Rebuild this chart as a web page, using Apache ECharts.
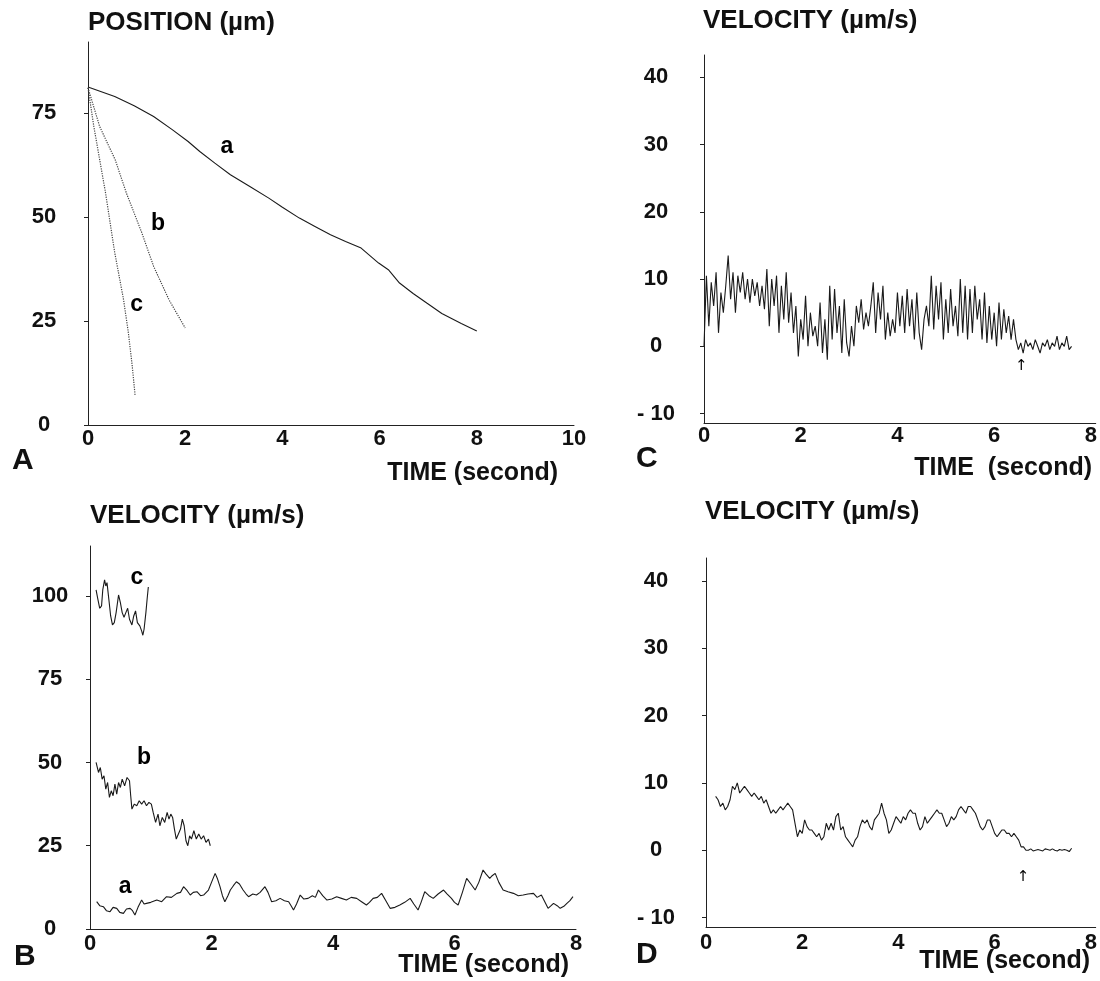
<!DOCTYPE html>
<html lang="en">
<head>
<meta charset="UTF-8">
<title>Position and velocity</title>
<style>
  html, body { margin: 0; padding: 0; background: #fff; }
  #main { width: 1100px; height: 981px; }
</style>
</head>
<body>
<div id="main"></div>
<script src="https://cdn.jsdelivr.net/npm/echarts@6/dist/echarts.min.js"></script>
<script>
// tick labels
var posTicks = [0, 25, 50, 75];
var timeTicksA = [0, 2, 4, 6, 8, 10];
var velTicksB = [0, 25, 50, 75, 100];
var timeTicks = [0, 2, 4, 6, 8];
var velTicks = [-10, 0, 10, 20, 30, 40];

// panel A : position (um) against time (s), [t, pos]
var posA = [[0,81.2],[0.55,78.9],[0.95,76.7],[1.35,74.1],[1.74,70.9],[2.06,68.1],[2.3,65.7],[2.61,62.9],
  [2.93,60.1],[3.33,57.3],[3.72,54.5],[4.0,52.3],[4.35,49.7],[4.67,47.7],[4.99,45.7],[5.3,44.1],
  [5.62,42.5],[5.98,38.9],[6.18,37.3],[6.41,34.1],[6.69,31.6],[6.97,29.3],[7.28,26.8],[7.68,24.4],[8.0,22.6]];
var posB = [[0,81],[0.24,71.7],[0.56,63.7],[0.79,55.7],[1.11,46.1],[1.35,38.1],[1.67,30],[2.0,23.3]];
var posC = [[0,81],[0.12,71.7],[0.36,55.8],[0.55,41.4],[0.73,30.2],[0.83,22.2],[0.91,14.2],[0.97,7.0]];

// panel B : velocity (um/s) of the three cells, [t, v]
var velBc = [[0.10,101.8],[0.13,99],[0.16,96.3],[0.19,97],[0.21,101.8],[0.24,104.8],[0.26,103],[0.28,104],
  [0.31,99],[0.34,94],[0.37,91.3],[0.40,92],[0.43,95],[0.47,100.3],[0.50,98],[0.53,95],[0.56,93.6],
  [0.59,95],[0.62,96.3],[0.65,93],[0.69,91.3],[0.72,94],[0.75,95.5],[0.78,92],[0.82,91],[0.85,89.5],
  [0.87,88.2],[0.89,90],[0.92,95],[0.94,99],[0.96,102.7]];
var velBb = [[0.10,50],[0.14,47],[0.17,48.5],[0.2,45],[0.23,46],[0.26,42],[0.29,44],[0.32,39.5],[0.35,41.5],
  [0.38,40],[0.41,43.5],[0.44,40.5],[0.47,44],[0.5,42.5],[0.53,45],[0.57,43],[0.61,45.5],[0.65,44.5],
  [0.67,40],[0.69,36],[0.73,37.5],[0.77,37],[0.81,38.5],[0.85,37.5],[0.89,38.5],[0.93,37],[0.97,38],
  [1.01,37.5],[1.04,35],[1.08,32],[1.12,34.5],[1.15,31],[1.19,33.5],[1.23,32],[1.27,35],[1.3,33],
  [1.33,34.5],[1.36,33.5],[1.39,30],[1.42,27],[1.45,27.5],[1.49,30],[1.52,33],[1.55,31],[1.58,26.5],
  [1.61,25],[1.64,28],[1.67,27],[1.71,29.5],[1.75,27],[1.79,28.5],[1.83,27],[1.87,28],[1.91,26],
  [1.95,27],[1.98,25]];
var velBa = [[0.11,8.2],[0.16,7],[0.22,6.7],[0.27,5.5],[0.33,5.2],[0.38,6.5],[0.44,6.2],[0.49,5],
  [0.55,4.7],[0.6,6],[0.66,6.2],[0.7,5.5],[0.74,4.2],[0.79,6.5],[0.85,8.7],[0.89,7.5],[0.93,7.7],
  [1.0,8],[1.1,8.7],[1.18,8.2],[1.26,9.7],[1.34,9.5],[1.43,10.7],[1.49,11],[1.54,12.7],[1.6,11.5],
  [1.65,10.2],[1.7,11],[1.76,11.2],[1.82,10],[1.87,10.2],[1.95,11.7],[2.0,14],[2.06,16.7],[2.1,15],
  [2.14,12.7],[2.18,10],[2.22,8.2],[2.27,10],[2.31,11.7],[2.36,13],[2.41,14.2],[2.46,13.5],[2.52,11.7],
  [2.57,10.5],[2.61,9.7],[2.68,10.5],[2.74,10.2],[2.8,11],[2.88,12.7],[2.93,11],[2.99,8.2],[3.06,8.5],
  [3.13,9.2],[3.2,8.5],[3.27,8.2],[3.31,7],[3.35,5.7],[3.4,7.5],[3.46,10.2],[3.52,9],[3.59,9.2],
  [3.66,10],[3.71,9.5],[3.76,11.7],[3.83,10],[3.9,8.7],[3.98,9],[4.06,9.7],[4.14,9.2],[4.22,8.7],
  [4.3,9.5],[4.39,9.2],[4.47,8.2],[4.55,7.2],[4.6,8],[4.66,9.2],[4.73,9.5],[4.8,10.7],[4.87,8.5],
  [4.94,6.2],[5.02,6.5],[5.1,7.2],[5.18,8],[5.27,9.2],[5.33,7.5],[5.4,5.7],[5.45,8],[5.51,11.2],
  [5.58,10],[5.65,9.2],[5.73,10.5],[5.82,11.7],[5.88,10.5],[5.95,9.2],[6.0,8],[6.06,7.2],[6.13,11],
  [6.2,15.2],[6.27,13.5],[6.34,11.7],[6.4,14],[6.47,17.7],[6.52,16.5],[6.58,15.2],[6.62,16],[6.67,16.7],
  [6.73,14],[6.8,11.7],[6.88,11.2],[6.97,10.7],[7.05,10],[7.13,10.2],[7.21,10.5],[7.3,10.7],[7.36,9.5],
  [7.43,10.2],[7.49,8],[7.54,6.2],[7.59,7],[7.63,7.7],[7.69,7],[7.74,6.2],[7.8,6.8],[7.85,7.7],
  [7.9,8.5],[7.95,9.7]];

// panel C : velocity (um/s), sampled every velStep s from velCStart
var velStep = 0.05;
var velCStart = 0;
var velC = [
  0, 10.5, 3, 9.5, 6, 11, 2, 8, 5, 9,
  13.5, 7, 11, 5, 10.5, 8, 11, 7, 10, 6.5,
  10, 7.5, 9.5, 6, 9, 5.5, 11.5, 3, 10, 6,
  10.5, 2, 9, 4, 11, 3.5, 8, 2, 6, -1.5,
  4, 1, 7.5, 0, 5, 1.5, 3, 0, 6.5, -1,
  4, -2, 9, 1, 8.5, 2, 6, -1, 7, 0.5,
  -1.5, 3, 0, 6, 3.5, 7, 2.5, 5, 3, 6,
  9.5, 2, 8, 4, 9, 1, 5, 1.5, 4, 2,
  8, 3, 7.5, 2, 8.5, 3, 7, 1, 8, 2,
  -0.5, 4, 6, 3, 10.5, 2.5, 9, 4, 9.5, 1,
  7, 2, 8.5, 3, 6, 1.5, 10, 2, 9, 1,
  8.5, 2, 9, 4, 7, 1, 8, 0.5, 6, 1,
  5, 0, 6.5, 1, 5.5, 2, 4.5, 1, 4, 1,
  -0.5, 0.5, -1, 1, 0, 0.5, -0.5, 1, 0, -1,
  0.5, 0, 1, -0.5, 0.5, 0, 1.5, -0.5, 0.5, 0,
  1.5, -0.5, 0];

// panel D : velocity (um/s), sampled every velStep s from velDStart
var velDStart = 0.2;
var velD = [
  8, 7.5, 6.5, 7, 6, 6.5, 7.5, 9.5, 9, 10,
  8.5, 9, 9.5, 9, 8.5, 8, 8.5, 8, 7.5, 8,
  7, 7.5, 6.5, 5.5, 6, 5.5, 6, 6.5, 6, 6.5,
  7, 6.5, 6, 4, 2, 3, 2.5, 4.5, 3.5, 3,
  3, 2.5, 2, 2.5, 1.5, 2, 4, 3, 4, 3,
  5, 5.5, 3, 3.5, 2, 1.5, 1, 0.5, 1.5, 2,
  3.5, 4.5, 4, 4.5, 3.5, 3, 4.5, 5, 5.5, 7,
  5.5, 4.5, 2.5, 3, 4, 5, 4.5, 4, 5, 4.5,
  5.5, 6, 5.5, 5.5, 4, 3, 3.5, 5, 4, 4.5,
  5, 5.5, 6, 5.5, 5.5, 4.5, 3.5, 4, 5, 4.5,
  5, 6, 6.5, 6, 5.5, 6.5, 6.5, 6, 5.5, 4.5,
  3.5, 3, 3.5, 4.5, 4.5, 3.5, 2.5, 2, 2.5, 3,
  3, 2.5, 2.5, 2, 2.5, 2, 1.5, 0.5, 0.5, 0,
  0, 0.2, -0.1, 0, 0.1, 0, -0.1, 0.2, 0.1, 0,
  0.2, 0, -0.1, 0.1, 0, 0.1, 0, -0.2, 0.3];

// curve letters and arrows, [x, y, text]
var labelsA = [[2.86, 66.8, 'a'], [1.44, 48.3, 'b'], [1.0, 29, 'c']];
var labelsB = [[0.58, 12.6, 'a'], [0.89, 51.3, 'b'], [0.77, 105.4, 'c']];
var arrowC = [[6.56, -3, '\u2191']];
var arrowD = [[6.59, -4, '\u2191']];

function sampled(start, values) {
  var out = [];
  for (var i = 0; i < values.length; i++) {
    out.push([+(start + i * velStep).toFixed(2), values[i]]);
  }
  return out;
}

var FONT = '"Liberation Sans", Arial, sans-serif';
var INK = '#111';

function xAxisOf(idx, max, ticks, margin) {
  return {
    type: 'value', gridIndex: idx, min: 0, max: max,
    axisLine: { onZero: false, lineStyle: { color: '#222', width: 1 } },
    axisTick: { show: false },
    splitLine: { show: false },
    axisLabel: { customValues: ticks, color: INK, fontWeight: 'bold', fontSize: 22,
      fontFamily: FONT, margin: margin }
  };
}
function yAxisOf(idx, min, max, ticks, margin) {
  return {
    type: 'value', gridIndex: idx, min: min, max: max,
    axisLine: { show: true, onZero: false, lineStyle: { color: '#222', width: 1 } },
    axisTick: { show: true, customValues: ticks, length: 4, lineStyle: { color: '#222' } },
    splitLine: { show: false },
    axisLabel: { customValues: ticks, color: INK, fontWeight: 'bold', fontSize: 22,
      fontFamily: FONT, align: 'center', margin: margin,
      formatter: function (v) { return v < 0 ? '- ' + Math.abs(v) : String(v); } }
  };
}
function trace(idx, data, dotted) {
  return {
    type: 'line', xAxisIndex: idx, yAxisIndex: idx, data: data,
    showSymbol: false, animation: false,
    lineStyle: { color: dotted ? '#444' : '#1a1a1a', width: dotted ? 1.2 : 1.1, type: dotted ? 'dotted' : 'solid' }
  };
}
function letters(idx, items, size, family, weight) {
  return {
    type: 'scatter', xAxisIndex: idx, yAxisIndex: idx, symbolSize: 0, animation: false,
    itemStyle: { opacity: 1 },
    data: items.map(function (d) { return { value: [d[0], d[1]], name: d[2] }; }),
    label: { show: true, position: 'inside', formatter: '{b}', color: '#000', opacity: 1,
      fontSize: size, fontWeight: weight, fontFamily: family }
  };
}
function text(opts, str, size) {
  var t = { type: 'text', style: { text: str, fill: INK, font: 'bold ' + size + 'px ' + FONT } };
  for (var k in opts) t[k] = opts[k];
  return t;
}

var myChart = echarts.init(document.getElementById('main'));
var option = {
  backgroundColor: '#fff',
  animation: false,
  grid: [
    { left: 88, top: 42, width: 486, height: 383 },
    { left: 90, top: 546, width: 486, height: 383 },
    { left: 704, top: 55, width: 394, height: 368 },
    { left: 706, top: 558, width: 392, height: 369 }
  ],
  xAxis: [
    xAxisOf(0, 10, timeTicksA, 3),
    xAxisOf(1, 8, timeTicks, 4),
    xAxisOf(2, 8.1, timeTicks, 2),
    xAxisOf(3, 8.1, timeTicks, 5)
  ],
  yAxis: [
    yAxisOf(0, 0, 92, posTicks, 44),
    yAxisOf(1, 0, 115, velTicksB, 40),
    yAxisOf(2, -11.4, 43.3, velTicks, 48),
    yAxisOf(3, -11.4, 43.4, velTicks, 50)
  ],
  series: [
    trace(0, posA, false),
    trace(0, posB, true),
    trace(0, posC, true),
    letters(0, labelsA, 23, FONT, 'bold'),
    trace(1, velBa, false),
    trace(1, velBb, false),
    trace(1, velBc, false),
    letters(1, labelsB, 23, FONT, 'bold'),
    trace(2, sampled(velCStart, velC), false),
    letters(2, arrowC, 15, '"DejaVu Sans", sans-serif', 'normal'),
    trace(3, sampled(velDStart, velD), false),
    letters(3, arrowD, 15, '"DejaVu Sans", sans-serif', 'normal')
  ],
  graphic: [
    text({ left: 88, top: 10 }, 'POSITION (\u00b5m)', 26),
    text({ left: 90, top: 503 }, 'VELOCITY (\u00b5m/s)', 26),
    text({ left: 703, top: 8 }, 'VELOCITY (\u00b5m/s)', 26),
    text({ left: 705, top: 499 }, 'VELOCITY (\u00b5m/s)', 26),
    text({ right: 542, top: 461 }, 'TIME (second)', 25),
    text({ right: 531, top: 953 }, 'TIME (second)', 25),
    text({ right: 8, top: 456 }, 'TIME  (second)', 25),
    text({ right: 10, top: 949 }, 'TIME (second)', 25),
    text({ left: 12, top: 446 }, 'A', 30),
    text({ left: 14, top: 942 }, 'B', 30),
    text({ left: 636, top: 444 }, 'C', 30),
    text({ left: 636, top: 940 }, 'D', 30)
  ]
};
myChart.setOption(option);
window.addEventListener('resize', function () {
  myChart.resize();
});
</script>
</body>
</html>
